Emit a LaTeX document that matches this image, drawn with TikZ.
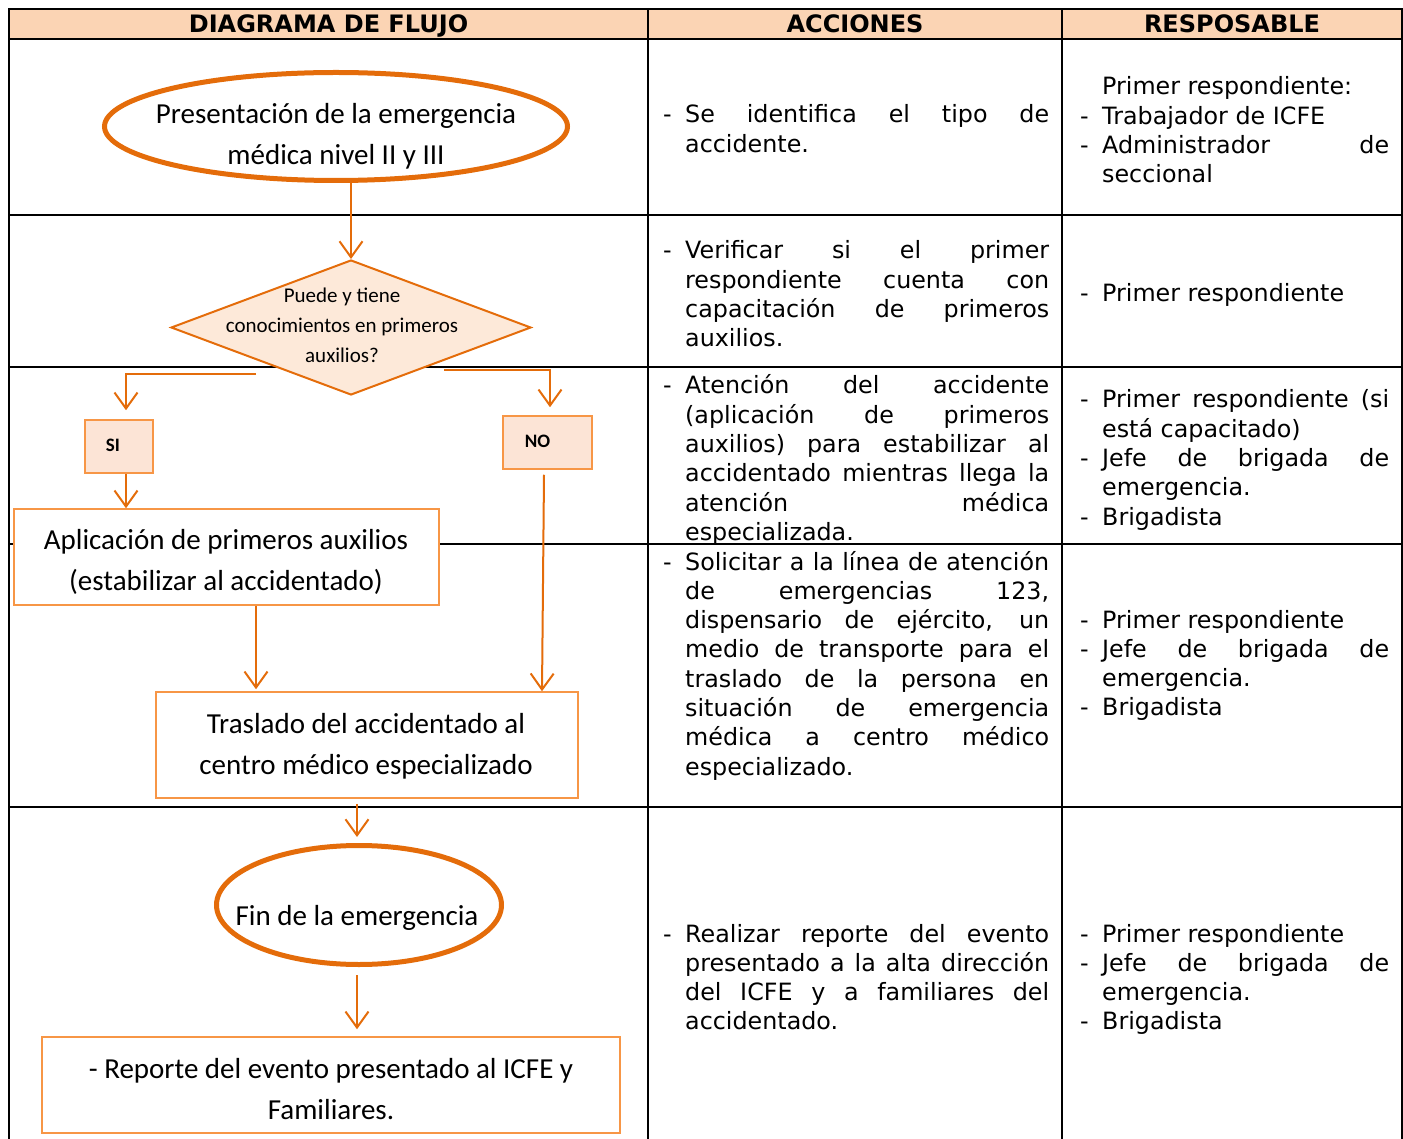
\documentclass[tikz,border=0pt]{standalone}
\usepackage{fontspec}
\setmainfont{DejaVu Sans}
\newfontfamily\calfont{Carlito}
\usetikzlibrary{arrows.meta,shapes.geometric}
\definecolor{org}{HTML}{E46C0A}
\definecolor{orgl}{HTML}{F79646}
\definecolor{hdr}{HTML}{FBD4B4}
\definecolor{dfill}{HTML}{FDE9D9}
\definecolor{sfill}{HTML}{FCE4D6}
\newlength\dashw \setlength\dashw{22pt}
\newlength\jw \setlength\jw{364pt}
% dash + justified line
\newcommand\mydJ[1]{\noindent\makebox[\dashw][l]{-}\makebox[\jw][s]{#1}\par}
% dash + left line
\newcommand\mydL[1]{\noindent\makebox[\dashw][l]{-}#1\par}
% continuation justified
\newcommand\mycJ[1]{\noindent\hspace*{\dashw}\makebox[\jw][s]{#1}\par}
% continuation left
\newcommand\mycL[1]{\noindent\hspace*{\dashw}#1\par}
\begin{document}
\begin{tikzpicture}[x=1pt,y=-1pt,
  tline/.style={draw=black,line width=2pt},
  hdrtxt/.style={font=\bfseries\fontsize{24}{29}\selectfont,inner sep=0,anchor=base},
  celltxt/.style={font=\fontsize{23.8}{29.3}\selectfont,inner sep=0,anchor=base west,align=flush left},
  ftxt/.style={font=\calfont\fontsize{29}{41}\selectfont,inner sep=0,anchor=base,align=flush center,text width=560pt},
  dtxt/.style={font=\calfont\fontsize{21}{30}\selectfont,inner sep=0,anchor=base,align=flush center,text width=300pt},
  ytxt/.style={font=\calfont\bfseries\fontsize{19}{23}\selectfont,inner sep=0,anchor=base},
  oval/.style={ellipse,draw=org,line width=5pt,inner sep=0},
  fbox/.style={rectangle,draw=orgl,line width=1.5pt,fill=white,inner sep=0},
  ybox/.style={rectangle,draw=orgl,line width=1.5pt,fill=sfill,inner sep=0},
  arr/.style={draw=org,line width=2pt,-{Straight Barb[length=16pt,width=23pt]}},
]
\useasboundingbox (0,0) rectangle (1403,1139);
% ---------- table ----------
\fill[hdr] (9,9) rectangle (1402,39);
\draw[tline] (9,1139) -- (9,9) -- (1402,9) -- (1402,1139);
\draw[tline] (648,9) -- (648,1139);
\draw[tline] (1062,9) -- (1062,1139);
\foreach \yy in {39,215,367,544,807} \draw[tline] (9,\yy) -- (1402,\yy);

\node[hdrtxt] (h1) at (328.5,33) {DIAGRAMA DE FLUJO};
\node[hdrtxt] (h2) at (855,33) {ACCIONES};
\node[hdrtxt] (h3) at (1232,33) {RESPOSABLE};

% ---------- ACCIONES ----------
\node[celltxt,text width=386pt] (a1) at (663,123) {\setlength\jw{364pt}\mydJ{Se identifica el tipo de}\mycL{accidente.}};
\node[celltxt,text width=386pt] (a2) at (663,259) {\setlength\jw{364pt}\mydJ{Verificar si el primer}\mycJ{respondiente cuenta con}\mycJ{capacitación de primeros}\mycL{auxilios.}};
\node[celltxt,text width=386pt] (a3) at (663,394) {\setlength\jw{364pt}\mydJ{Atención del accidente}\mycJ{(aplicación de primeros}\mycJ{auxilios) para estabilizar al}\mycJ{accidentado mientras llega la}\mycJ{atención médica}\mycL{especializada.}};
\node[celltxt,text width=386pt] (a4) at (663,570) {\setlength\jw{364pt}\mydJ{Solicitar a la línea de atención}\mycJ{de emergencias 123,}\mycJ{dispensario de ejército, un}\mycJ{medio de transporte para el}\mycJ{traslado de la persona en}\mycJ{situación de emergencia}\mycJ{médica a centro médico}\mycL{especializado.}};
\node[celltxt,text width=386pt] (a5) at (663,942) {\setlength\jw{364pt}\mydJ{Realizar reporte del evento}\mycJ{presentado a la alta dirección}\mycJ{del ICFE y a familiares del}\mycL{accidentado.}};

% ---------- RESPONSABLE ----------
\node[celltxt,text width=309pt] (r1) at (1080,95) {\setlength\jw{287pt}\mycL{Primer respondiente:}\mydL{Trabajador de ICFE}\mydJ{Administrador de}\mycL{seccional}};
\node[celltxt,text width=309pt] (r2) at (1080,302) {\setlength\jw{287pt}\mydL{Primer respondiente}};
\node[celltxt,text width=309pt] (r3) at (1080,408) {\setlength\jw{287pt}\mydJ{Primer respondiente (si}\mycL{está capacitado)}\mydJ{Jefe de brigada de}\mycL{emergencia.}\mydL{Brigadista}};
\node[celltxt,text width=309pt] (r4) at (1080,628) {\setlength\jw{287pt}\mydL{Primer respondiente}\mydJ{Jefe de brigada de}\mycL{emergencia.}\mydL{Brigadista}};
\node[celltxt,text width=309pt] (r5) at (1080,942) {\setlength\jw{287pt}\mydL{Primer respondiente}\mydJ{Jefe de brigada de}\mycL{emergencia.}\mydL{Brigadista}};

% ---------- flowchart ----------
\node[oval,minimum width=463pt,minimum height=108pt] (e1) at (336,126.5) {};
\node[ftxt] (t1) at (336,124) {Presentación de la emergencia\\médica nivel II y III};

\node[diamond,draw=org,fill=dfill,line width=2pt,inner sep=0,minimum width=360pt,minimum height=135pt] (d) at (351,327.5) {};
\node[dtxt] (dt) at (342,303) {Puede y tiene\\conocimientos en primeros\\auxilios?};

\node[ybox,minimum width=68pt,minimum height=53pt] (si) at (119,446.5) {};
\node[ytxt] (sit) at (113,451) {SI};
\node[ybox,minimum width=89pt,minimum height=53pt] (no) at (547.5,442.5) {};
\node[ytxt] (not) at (537.5,447) {NO};

\node[fbox,minimum width=425pt,minimum height=96pt] (app) at (226.5,557) {};
\node[ftxt] (appt) at (226,549) {Aplicación de primeros auxilios\\(estabilizar al accidentado)};

\node[fbox,minimum width=422pt,minimum height=106pt] (tr) at (367,745) {};
\node[ftxt] (trt) at (366,733) {Traslado del accidentado al\\centro médico especializado};

\node[oval,minimum width=285pt,minimum height=119pt] (e2) at (359,905) {};
\node[ftxt] (e2t) at (357,925) {Fin de la emergencia};

\node[fbox,minimum width=578pt,minimum height=96pt] (rep) at (331,1085) {};
\node[ftxt] (rept) at (331,1078) {- Reporte del evento presentado al ICFE y\\Familiares.};

\coordinate (siA) at (256,374);
\coordinate (noA) at (444,370);

% ---------- connectors ----------
\draw[arr] (e1.south -| d.north) -- (d.north);
\draw[arr,shorten >=9pt] (siA) -| ([xshift=7pt]si.north);
\draw[arr,shorten >=8pt] (noA) -| ([xshift=2.5pt]no.north);
\draw[arr] ([xshift=7pt]si.south) -- ([xshift=7pt]si.south |- app.north);
\draw[arr] ([xshift=-3.5pt,yshift=-5pt]no.south) -- ([xshift=175pt]tr.north);
\draw[arr,shorten >=2pt] ([xshift=29.5pt]app.south) -- ([xshift=-111pt]tr.north);
\draw[arr,shorten <=5pt,shorten >=6pt] ([xshift=-10pt]tr.south) -- ([xshift=-10pt]tr.south |- e2.north);
\draw[arr,shorten <=8pt,shorten >=7pt] ([xshift=-2pt]e2.south) -- ([xshift=-2pt]e2.south |- rep.north);
\end{tikzpicture}
\end{document}
